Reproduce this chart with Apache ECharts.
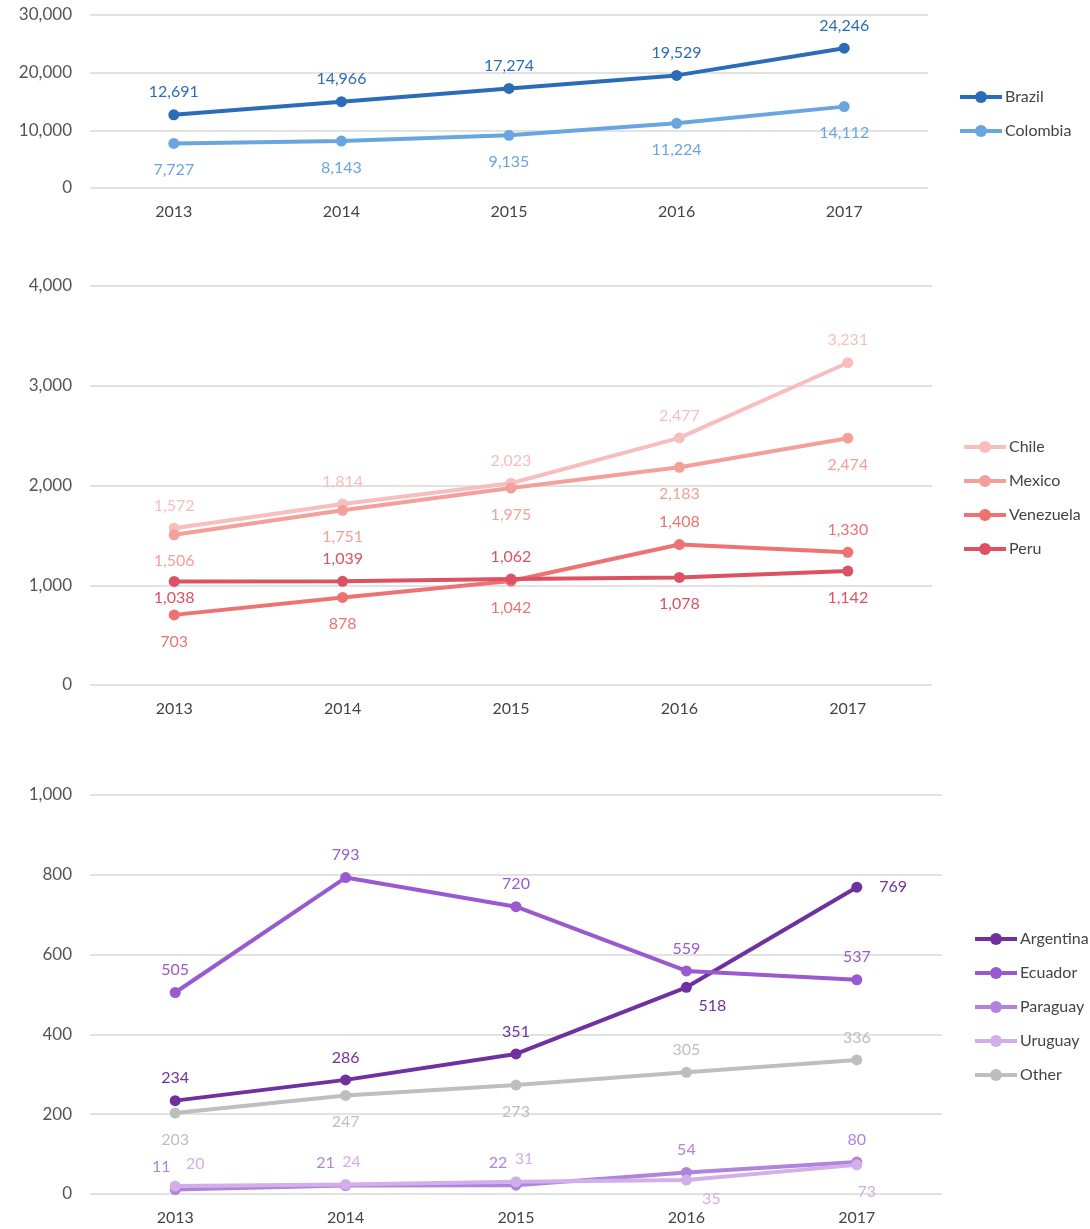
<!DOCTYPE html>
<html>
<head>
<meta charset="utf-8">
<script src="https://cdn.jsdelivr.net/npm/echarts@6/dist/echarts.min.js"></script>
<style>
  html, body { margin: 0; padding: 0; background: #fff; }
  #chart { width: 1090px; height: 1229px; }
</style>
</head>
<body>
<div id="chart"></div>
<script>
// categories
const years = ['2013', '2014', '2015', '2016', '2017']

// top panel
const brazil = [12691, 14966, 17274, 19529, 24246]
const colombia = [7727, 8143, 9135, 11224, 14112]

// middle panel
const chile = [1572, 1814, 2023, 2477, 3231]
const mexico = [1506, 1751, 1975, 2183, 2474]
const venezuela = [703, 878, 1042, 1408, 1330]
const peru = [1038, 1039, 1062, 1078, 1142]

// bottom panel
const argentina = [234, 286, 351, 518, 769]
const ecuador = [505, 793, 720, 559, 537]
const paraguay = [11, 21, 22, 54, 80]
const uruguay = [20, 24, 31, 35, 73]
const other = [203, 247, 273, 305, 336]

const FONT = 'Lato'
const fmt = v => v.toLocaleString('en-US')

// label placement per point: [position, dx, dy]
function withLabels(values, places) {
  return values.map((v, i) => {
    const p = places[i]
    const below = p[0] === 'bottom'
    return {
      value: v,
      label: {
        position: p[0],
        distance: below ? 13 : 9,
        offset: [p[1] || 0, p[2] || 0]
      }
    }
  })
}

function line(name, color, gridIdx, data) {
  return {
    name: name,
    type: 'line',
    xAxisIndex: gridIdx,
    yAxisIndex: gridIdx,
    data: data,
    color: color,
    symbol: 'circle',
    symbolSize: 11,
    lineStyle: { width: 4, color: color },
    itemStyle: { color: color },
    label: {
      show: true,
      color: color,
      fontFamily: FONT,
      fontSize: 16,
      formatter: p => fmt(p.value)
    },
    animation: false
  }
}

const top4 = [['top'], ['top'], ['top'], ['top'], ['top']]
const bot5 = [['bottom'], ['bottom'], ['bottom'], ['bottom'], ['bottom']]

function xAxis(gridIdx) {
  return {
    type: 'category',
    gridIndex: gridIdx,
    data: years,
    axisLine: { show: false },
    axisTick: { show: false },
    axisLabel: { color: '#444', fontFamily: FONT, fontSize: 16, margin: 16 }
  }
}

function yAxis(gridIdx, max, interval) {
  return {
    type: 'value',
    gridIndex: gridIdx,
    min: 0,
    max: max,
    interval: interval,
    axisLine: { show: false },
    axisTick: { show: false },
    splitLine: { lineStyle: { color: '#d9d9d9', width: 1.5 } },
    axisLabel: { color: '#555', fontFamily: FONT, fontSize: 17, margin: 18, formatter: fmt }
  }
}

function legend(names, left, top) {
  return {
    data: names,
    orient: 'vertical',
    left: left,
    top: top,
    padding: 0,
    itemWidth: 42,
    itemHeight: 15,
    itemGap: 14,
    lineStyle: { width: 4 },
    itemStyle: { borderWidth: 0 },
    textStyle: { color: '#444', fontFamily: FONT, fontSize: 16, lineHeight: 20, padding: [0, 0, 0, -2] }
  }
}

const chart = echarts.init(document.getElementById('chart'))

chart.setOption({
  backgroundColor: '#fff',
  grid: [
    { left: 90, right: 162, top: 15, height: 173 },
    { left: 90, right: 158, top: 286, height: 399 },
    { left: 90, right: 148, top: 795, height: 399 }
  ],
  xAxis: [xAxis(0), xAxis(1), xAxis(2)],
  yAxis: [yAxis(0, 30000, 10000), yAxis(1, 4000, 1000), yAxis(2, 1000, 200)],
  legend: [
    legend(['Brazil', 'Colombia'], 958, 87),
    legend(['Chile', 'Mexico', 'Venezuela', 'Peru'], 962, 437),
    legend(['Argentina', 'Ecuador', 'Paraguay', 'Uruguay', 'Other'], 973, 929)
  ],
  series: [
    line('Brazil', '#2b6cb8', 0, withLabels(brazil, top4)),
    line('Colombia', '#69a6e0', 0, withLabels(colombia, bot5)),

    line('Chile', '#f8bebe', 1, withLabels(chile, top4)),
    line('Mexico', '#f3a09b', 1, withLabels(mexico, bot5)),
    line('Venezuela', '#ee7272', 1, withLabels(venezuela,
      [['bottom'], ['bottom'], ['bottom'], ['top'], ['top']])),
    line('Peru', '#dc5262', 1, withLabels(peru,
      [['bottom', 0, -10], ['top'], ['top'], ['bottom'], ['bottom']])),

    line('Argentina', '#7030a0', 2, withLabels(argentina,
      [['top'], ['top'], ['top'], ['bottom', 26, -8], ['right', 8, 0]])),
    line('Ecuador', '#9b59cf', 2, withLabels(ecuador, top4)),
    line('Paraguay', '#b183dc', 2, withLabels(paraguay,
      [['top', -14, 0], ['top', -20, 0], ['top', -18, 0], ['top'], ['top']])),
    line('Uruguay', '#d2afea', 2, withLabels(uruguay,
      [['top', 20, 0], ['top', 6, 0], ['top', 8, 0], ['bottom', 25, -8], ['bottom', 10, 0]])),
    line('Other', '#bebebe', 2, withLabels(other,
      [['bottom'], ['bottom'], ['bottom'], ['top'], ['top']]))
  ]
})

window.addEventListener('resize', () => chart.resize())
</script>
</body>
</html>
